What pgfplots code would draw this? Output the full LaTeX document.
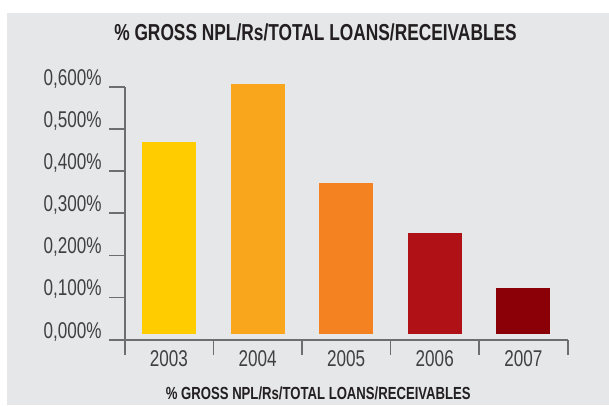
\documentclass[border=0pt]{standalone}
\usepackage{pgfplots}
\pgfplotsset{compat=1.18}
\usepackage{pgfplotstable}
\usepackage{fontspec}
\setmainfont{Liberation Sans}[FakeStretch=0.75]
\definecolor{bgcol}{HTML}{E6E7E8}
\definecolor{axiscol}{HTML}{6D6E71}
\definecolor{tickcol}{HTML}{404042}
\definecolor{titlecol}{HTML}{231F20}
\definecolor{c03}{HTML}{FFCC00}
\definecolor{c04}{HTML}{F9A61C}
\definecolor{c05}{HTML}{F58220}
\definecolor{c06}{HTML}{B01117}
\definecolor{c07}{HTML}{8A0006}
% bars start slightly above the axis (base 0.0125); tops read: 0.4695 0.6063 0.3716 0.2537 0.1226
\pgfplotstableread{
x base b03 b04 b05 b06 b07
0 0.0125 0.4570 0 0 0 0
1 0.0125 0 0.5938 0 0 0
2 0.0125 0 0 0.3591 0 0
3 0.0125 0 0 0 0.2412 0
4 0.0125 0 0 0 0 0.1101
}\data
\begin{document}
\begin{tikzpicture}[x=1pt,y=1pt]
\useasboundingbox (0,0) rectangle (609,405);
\fill[white] (0,0) rectangle (609,405);
\fill[bgcol] (7,0) rectangle (609,391.5);
\begin{axis}[
  at={(124.7pt,65.3pt)}, anchor=south west,
  scale only axis, width=443pt, height=253pt,
  xmin=-0.5, xmax=4.5, ymin=0, ymax=0.6,
  clip=false,
  axis x line*=bottom, axis y line*=left,
  axis line style={draw=axiscol, line width=1.8pt},
  tick align=outside, major tick length=15.5pt,
  tick style={draw=axiscol, line width=1.6pt},
  xtick={-0.5,0.5,1.5,2.5,3.5,4.5},
  xticklabels={2003,2004,2005,2006,2007,},
  ytick={0,0.1,0.2,0.3,0.4,0.5,0.6},
  yticklabels={{0,000\%},{0,100\%},{0,200\%},{0,300\%},{0,400\%},{0,500\%},{0,600\%}},
  ticklabel style={font=\fontsize{22.8}{24}\selectfont, text=tickcol, inner sep=0pt},
  xticklabel style={anchor=base, xshift=44.25pt, yshift=-11.5pt},
  yticklabel style={anchor=base east, xshift=-7.3pt, yshift=1.7pt},
  ybar stacked, bar width=54pt,
]
\addplot[draw=none, fill=none] table[x=x, y=base] {\data};
\addplot[draw=none, fill=c03] table[x=x, y=b03] {\data};
\addplot[draw=none, fill=c04] table[x=x, y=b04] {\data};
\addplot[draw=none, fill=c05] table[x=x, y=b05] {\data};
\addplot[draw=none, fill=c06] table[x=x, y=b06] {\data};
\addplot[draw=none, fill=c07] table[x=x, y=b07] {\data};
\end{axis}
\node[anchor=base, inner sep=0pt, text=titlecol, font=\bfseries\fontsize{23.1}{26}\selectfont] at (315.5,364) {\% GROSS NPL/Rs/TOTAL LOANS/RECEIVABLES};
\node[anchor=base, inner sep=0pt, text=titlecol, font=\bfseries\fontsize{17.5}{20}\selectfont] at (318.3,6) {\% GROSS NPL/Rs/TOTAL LOANS/RECEIVABLES};
\end{tikzpicture}
\end{document}
